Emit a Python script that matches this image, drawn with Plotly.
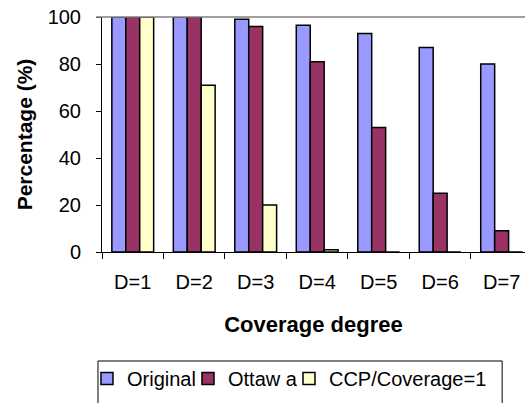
import plotly.graph_objects as go

categories = ["D=1", "D=2", "D=3", "D=4", "D=5", "D=6", "D=7"]
original = [100, 100, 99, 96.5, 93, 87, 80]
ottawa = [100, 100, 96, 81, 53, 25, 9]
ccp = [100, 71, 20, 1, 0, 0, 0]

series = [
    ("Original", original, "#9999FF", 56),
    ("Ottaw a", ottawa, "#993366", 56),
    ("CCP/Coverage=1", ccp, "#FFFFCC", 170),
]

font = "Arial, Liberation Sans, sans-serif"

fig = go.Figure()
for name, vals, color, lw in series:
    fig.add_trace(go.Bar(
        x=categories, y=vals, name=name, legendwidth=lw,
        marker=dict(color=color, line=dict(color="black", width=1.5)),
    ))

fig.update_layout(
    width=525, height=403,
    margin=dict(l=102, r=0, t=17, b=151, autoexpand=False),
    plot_bgcolor="white", paper_bgcolor="white",
    barmode="group", bargap=0.32, bargroupgap=0,
    font=dict(family=font, size=20, color="black"),
    showlegend=True,
    legend=dict(
        orientation="h", x=-0.0355, y=-0.455, xanchor="left", yanchor="top",
        borderwidth=0, bgcolor="rgba(0,0,0,0)",
        font=dict(size=20), itemwidth=30,
    ),
)

fig.update_xaxes(
    range=[-0.5, 6.38], showline=True, linecolor="black", linewidth=1,
    ticks="outside", tickson="boundaries", ticklen=6, tickcolor="black",
    ticklabelstandoff=12, ticklabeloverflow="allow",
    showgrid=False, automargin=False,
    title=dict(text="<b>Coverage degree</b>", font=dict(size=22), standoff=24),
)
fig.update_yaxes(
    range=[0, 100], dtick=20, showline=True, linecolor="black", linewidth=1,
    ticks="outside", ticklen=5, tickcolor="black", ticklabelstandoff=11,
    showgrid=False, automargin=False,
    title=dict(text="<b>Percentage (%)</b>", font=dict(size=21), standoff=9),
)

# grey border along the top of the plot area
fig.add_shape(type="line", xref="paper", yref="paper", x0=-0.014, x1=1, y0=1, y1=1,
              line=dict(color="#808080", width=1.5))
# legend frame, running off the bottom of the page like the original
fig.add_shape(type="rect", xref="paper", yref="paper",
              x0=-0.0095, x1=0.946, y0=-0.4638, y1=-0.75,
              line=dict(color="black", width=1), layer="below")

# drop the browser's default body margin so the figure sits at the page corner
fig.write_html("out.html", config={"displayModeBar": False},
               post_script="document.body.style.margin='0';")
